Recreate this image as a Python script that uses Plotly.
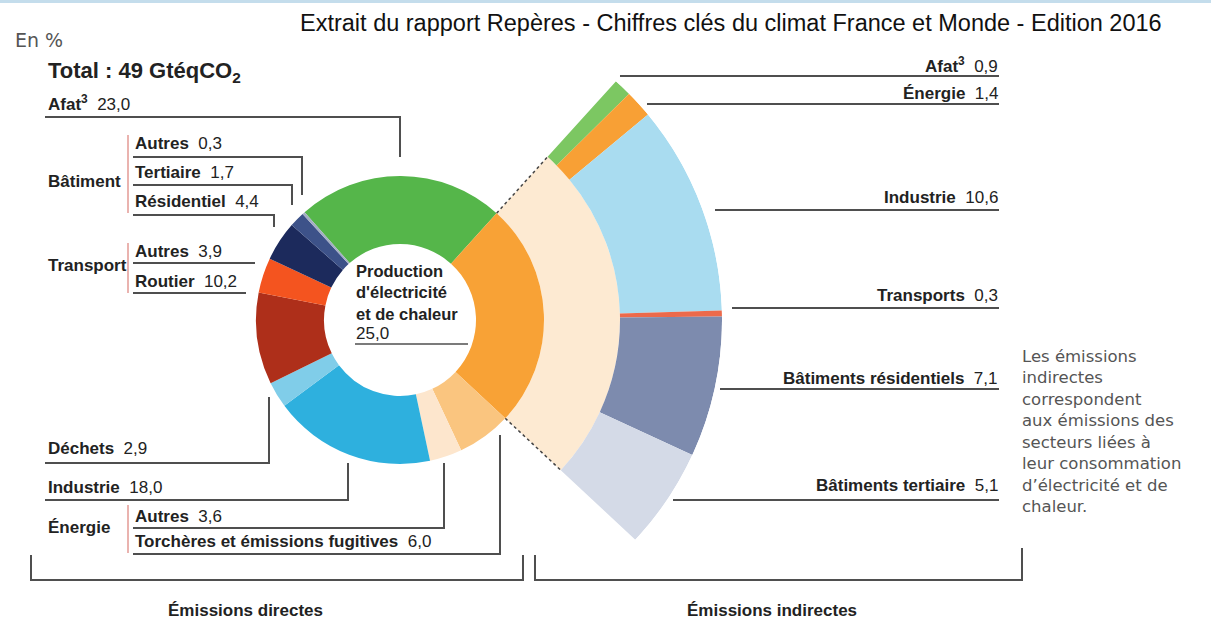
import numpy as np
import plotly.graph_objects as go

W, H = 1211, 621

# ---------------- data ----------------
# Direct emissions (donut), clockwise starting at the top-left (Afat)
direct_labels = ["Afat", "Production d'électricité et de chaleur",
                 "Énergie - Torchères et émissions fugitives", "Énergie - Autres",
                 "Industrie", "Déchets", "Transport - Routier", "Transport - Autres",
                 "Bâtiment - Résidentiel", "Bâtiment - Tertiaire", "Bâtiment - Autres"]
direct_short = ["Afat<sup>3</sup>", "Production d'électricité et de chaleur",
                "Torchères et émissions fugitives", "Autres", "Industrie", "Déchets",
                "Routier", "Autres", "Résidentiel", "Tertiaire", "Autres"]
direct_values = [23.0, 25.0, 6.0, 3.6, 18.0, 2.9, 10.2, 3.9, 4.4, 1.7, 0.3]
direct_colors = ["#55B64A", "#F8A236", "#FAC57F", "#FDE6CD", "#2EB0DE", "#80CDE9",
                 "#AE2F1A", "#F4541F", "#1C2A5C", "#3D5289", "#A3AEC4"]

# Indirect emissions (fan = breakdown of electricity & heat production)
indirect_labels = ["Afat<sup>3</sup>", "Énergie", "Industrie", "Transports",
                   "Bâtiments résidentiels", "Bâtiments tertiaire"]
indirect_values = [0.9, 1.4, 10.6, 0.3, 7.1, 5.1]
indirect_colors = ["#7CC762", "#F8A035", "#A9DCF0", "#EC6A4B", "#7D8BAE", "#D4DAE7"]

group_labels = ["Bâtiment", "Transport", "Énergie"]

title_text = "Extrait du rapport Repères - Chiffres clés du climat France et Monde - Edition 2016"
total_text = "Total : 49 GtéqCO<sub>2</sub>"
unit_text = "En %"
note_lines = ["Les émissions", "indirectes", "correspondent", "aux émissions des",
              "secteurs liées à", "leur consommation", "d’électricité et de", "chaleur."]
bottom_labels = ["Émissions directes", "Émissions indirectes"]

# ---------------- geometry / style ----------------
CX, CY = 400, 320
R_HOLE, R_DONUT, R_MID, R_OUT = 76, 144, 220, 322
START = -41.5

LAB = "Liberation Sans, Arial, sans-serif"
GRAYF = "DejaVu Sans, sans-serif"
DARK = "#222222"
LINE = "#4f4f4f"


def fr(v):
    return f"{v:.1f}".replace(".", ",")


total = sum(direct_values)
deg = [360.0 * v / total for v in direct_values]
a0 = START + deg[0]
span = deg[1]
a1 = a0 + span

ind_total = sum(indirect_values)
ind_w = [span * v / ind_total for v in indirect_values]
ind_theta = list(a0 + np.cumsum(ind_w) - np.array(ind_w) / 2.0)


def sector_bbox(s0, s1):
    arc = s1 - s0
    b0 = s0 % 360
    b1 = b0 + arc
    c0, n0 = np.cos(np.radians(b0)), np.sin(np.radians(b0))
    c1, n1 = np.cos(np.radians(b1)), np.sin(np.radians(b1))
    if (b0 <= 90 and b1 >= 90) or (b0 > 90 and b1 >= 450):
        y1 = 1
    elif n0 <= 0 and n1 <= 0:
        y1 = 0
    else:
        y1 = max(n0, n1)
    if (b0 <= 180 and b1 >= 180) or (b0 > 180 and b1 >= 540):
        x0 = -1
    elif c0 >= 0 and c1 >= 0:
        x0 = 0
    else:
        x0 = min(c0, c1)
    if (b0 <= 270 and b1 >= 270) or (b0 > 270 and b1 >= 630):
        y0 = -1
    elif n0 >= 0 and n1 >= 0:
        y0 = 0
    else:
        y0 = min(n0, n1)
    if b1 >= 360:
        x1 = 1
    elif c0 <= 0 and c1 <= 0:
        x1 = 0
    else:
        x1 = max(c0, c1)
    return x0, y0, x1, y1


PAD = 1.5
sector = [90 - a1 - PAD, 90 - a0 + PAD]
bx0, by0, bx1, by1 = sector_bbox(*sector)
xo = CX + R_OUT * bx0
yo = CY - R_OUT * by1
pw = R_OUT * (bx1 - bx0)
ph = R_OUT * (by1 - by0)
polar_domain = dict(x=[xo / W, (xo + pw) / W], y=[max(0, 1 - (yo + ph) / H), 1 - yo / H])

# ---------------- traces ----------------
fig = go.Figure()
fig.add_trace(go.Pie(
    labels=direct_labels, values=direct_values, sort=False, direction="clockwise",
    rotation=START, hole=R_HOLE / R_DONUT, textinfo="none",
    marker=dict(colors=direct_colors, line=dict(width=0)),
    domain=dict(x=[(CX - R_DONUT) / W, (CX + R_DONUT) / W],
                y=[1 - (CY + R_DONUT) / H, 1 - (CY - R_DONUT) / H]),
    showlegend=False, hoverinfo="label+value"))

fig.add_trace(go.Barpolar(
    r=[R_MID - R_DONUT], base=[R_DONUT], theta=[a0 + span / 2], width=[span],
    marker=dict(color="#FDEAD2", line=dict(width=0)), subplot="polar",
    hovertext=[direct_labels[1]], hoverinfo="text", showlegend=False))

fig.add_trace(go.Barpolar(
    r=[R_OUT - R_MID] * len(indirect_values), base=[R_MID] * len(indirect_values),
    theta=ind_theta, width=ind_w,
    marker=dict(color=indirect_colors, line=dict(width=0)), subplot="polar",
    hovertext=[f"{l} {fr(v)}" for l, v in zip(indirect_labels, indirect_values)],
    hoverinfo="text", showlegend=False))

for ang in (a0, a1):
    fig.add_trace(go.Scatterpolar(
        r=[R_DONUT, R_MID], theta=[ang, ang], mode="lines", subplot="polar",
        line=dict(color="#444444", width=1.5, dash="dot"),
        hoverinfo="skip", showlegend=False))

# ---------------- decorations ----------------
shapes = []
annotations = []


def polyline(pts, color=LINE, width=2):
    d = "M " + " L ".join(f"{x / W:.5f},{1 - y / H:.5f}" for x, y in pts)
    shapes.append(dict(type="path", path=d, xref="paper", yref="paper",
                       line=dict(color=color, width=width), layer="above"))


def text(x, y, s, size=17, anchor="left", family=LAB, color=DARK, align="left"):
    annotations.append(dict(x=x / W, y=1 - y / H, xref="paper", yref="paper", text=s,
                            showarrow=False, xanchor=anchor, yanchor="middle", align=align,
                            borderpad=0, font=dict(family=family, size=size, color=color)))


def lab(name, val):
    return f"<b>{name}</b>\u00a0 {fr(val)}"


# top band line
polyline([(0, 1.5), (W, 1.5)], color="#C4DDEC", width=3)

text((298 + 1163) / 2, 23, title_text, size=23.5, anchor="center", color="#111111")
text(14, 40, unit_text, size=19, family=GRAYF, color="#555555")
text(47, 72, f"<b>{total_text}</b>", size=22)

# left labels: (index, text x, text y, leader points)
left_items = [
    (0, 47, 103, [(45, 117), (400, 117), (400, 157)]),
    (10, 134, 143, [(133, 157), (302, 157), (302, 195)]),
    (9, 134, 172, [(133, 185), (292, 185), (292, 205)]),
    (8, 134, 201, [(133, 215), (274, 215), (274, 227)]),
    (7, 134, 251, [(133, 263), (255, 263)]),
    (6, 134, 281, [(133, 293), (246, 293)]),
    (5, 47, 448, [(45, 463), (269, 463), (269, 397)]),
    (4, 47, 487, [(45, 500), (348, 500), (348, 463)]),
    (3, 134, 516, [(133, 528), (444, 528), (444, 463)]),
    (2, 134, 541, [(133, 554), (500, 554), (500, 435)]),
]
for idx, tx, ty, pts in left_items:
    text(tx, ty, lab(direct_short[idx], direct_values[idx]))
    polyline(pts)

group_pos = [(182, 135, 213), (265, 243, 293), (527, 505, 553)]
for g, (gy, b0, b1) in zip(group_labels, group_pos):
    text(47, gy, f"<b>{g}</b>")
    polyline([(128, b0), (128, b1)], color="#E39A95", width=1.5)

# centre label
text(355, 292, "<b>Production<br>d'électricité<br>et de chaleur</b>", size=16.5)
text(355, 333, fr(direct_values[1]))
polyline([(355, 344), (468, 344)], width=1.5)

# right labels: (index, text y, line start x, line y)
right_items = [(0, 65, 620, 76), (1, 93, 647, 104), (2, 197, 715, 210),
               (3, 295, 732, 308), (4, 378, 720, 389), (5, 485, 673, 500)]
for idx, ty, lx, ly in right_items:
    text(999, ty, lab(indirect_labels[idx], indirect_values[idx]), anchor="right")
    polyline([(lx, ly), (999, ly)])

# brackets
polyline([(31, 555), (31, 580), (523, 580), (523, 555)])
polyline([(535, 555), (535, 580), (1022, 580), (1022, 548)])
text(245, 610, f"<b>{bottom_labels[0]}</b>", anchor="center")
text(772, 610, f"<b>{bottom_labels[1]}</b>", anchor="center")

text(1021, 431, "<br>".join(note_lines), size=16.5, family=GRAYF, color="#555555")

fig.update_layout(
    width=W, height=H, margin=dict(l=0, r=0, t=0, b=0),
    paper_bgcolor="white", plot_bgcolor="white", showlegend=False,
    polar=dict(domain=polar_domain, sector=sector, bgcolor="rgba(0,0,0,0)",
               radialaxis=dict(range=[0, R_OUT], visible=False),
               angularaxis=dict(rotation=90, direction="clockwise", visible=False)),
    shapes=shapes, annotations=annotations,
)

fig.write_html("out.html", config={"displayModeBar": False},
               post_script="document.body.style.margin='0';")
